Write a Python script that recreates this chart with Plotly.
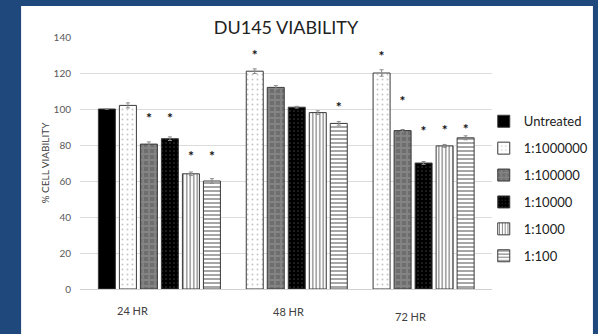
import plotly.graph_objects as go

groups = ["24 HR", "48 HR", "72 HR"]
series = ["Untreated", "1:1000000", "1:100000", "1:10000", "1:1000", "1:100"]

untreated = [100, None, None]
dil_1e6 = [102, 121, 120]
dil_1e5 = [80.5, 112, 88]
dil_1e4 = [83.5, 101, 70]
dil_1e3 = [64, 98, 79.5]
dil_1e2 = [60, 92, 84]

err_untreated = [0, None, None]
err_1e6 = [1.4, 1.3, 1.8]
err_1e5 = [1.2, 1.0, 0.6]
err_1e4 = [1.0, 0.5, 0.8]
err_1e3 = [1.0, 1.0, 0.8]
err_1e2 = [1.3, 1.0, 1.1]

star_untreated = [None, None, None]
star_1e6 = [None, 131, 130.5]
star_1e5 = [96, None, 105.5]
star_1e4 = [96, None, 89]
star_1e3 = [75, None, 89.5]
star_1e2 = [75, 102, 90]

values = [untreated, dil_1e6, dil_1e5, dil_1e4, dil_1e3, dil_1e2]
errors = [err_untreated, err_1e6, err_1e5, err_1e4, err_1e3, err_1e2]
stars = [star_untreated, star_1e6, star_1e5, star_1e4, star_1e3, star_1e2]

styles = [
    dict(color="#000000", pattern=dict(shape="")),
    dict(color="#ffffff", pattern=dict(shape=".", fgcolor="#8c8c8c", bgcolor="#ffffff", size=5, solidity=0.12)),
    dict(color="#7f7f7f", pattern=dict(shape="+", fgcolor="#9a9a9a", bgcolor="#6e6e6e", size=6, solidity=0.5)),
    dict(color="#000000", pattern=dict(shape=".", fgcolor="#6a6a6a", bgcolor="#000000", size=4, solidity=0.15)),
    dict(color="#ffffff", pattern=dict(shape="|", fgcolor="#000000", bgcolor="#ffffff", size=3.5, solidity=0.35)),
    dict(color="#ffffff", pattern=dict(shape="-", fgcolor="#000000", bgcolor="#ffffff", size=4, solidity=0.35)),
]

slot = 0.1656
bar_w = 0.134

fig = go.Figure()
for i, name in enumerate(series):
    xs, ys, es = [], [], []
    for g in range(len(groups)):
        if values[i][g] is not None:
            xs.append(g + (i - 2.5) * slot)
            ys.append(values[i][g])
            es.append(errors[i][g])
    st = styles[i]
    fig.add_trace(go.Bar(
        x=xs, y=ys, name=name, width=bar_w, legendgroup=name,
        marker=dict(color=st["color"], pattern=st["pattern"],
                    line=dict(color="#3a3a3a", width=1)),
        error_y=dict(type="data", array=es, color="#8a8a8a", thickness=1, width=2,
                     visible=True),
    ))

for i, name in enumerate(series):
    xs, ys = [], []
    for g in range(len(groups)):
        if stars[i][g] is not None:
            xs.append(g + (i - 2.5) * slot)
            ys.append(stars[i][g] - 1.8)
    if xs:
        fig.add_trace(go.Scatter(
            x=xs, y=ys, mode="text", text=["<b>*</b>"] * len(xs), showlegend=False,
            textfont=dict(size=14, color="#111111", family="Lato"),
            hoverinfo="skip",
        ))

label_x = [-0.216, 1.014, 1.976]
label_y = [-0.085, -0.09, -0.11]
for g, lab in enumerate(groups):
    fig.add_annotation(x=label_x[g], y=label_y[g], xref="x", yref="paper", text=lab,
                       showarrow=False, font=dict(size=11, color="#404040", family="Lato"),
                       xanchor="center", yanchor="middle")

fig.add_shape(type="rect", xref="paper", yref="paper", x0=-0.143, x1=1.245, y0=-0.2,
              y1=1.123, fillcolor="#ffffff", line=dict(width=0), layer="below")

fig.update_layout(
    width=598, height=334,
    margin=dict(l=80, r=106, t=37, b=45, autoexpand=False),
    paper_bgcolor="#1f497d",
    plot_bgcolor="#ffffff",
    barmode="overlay",
    title=dict(text="DU145 VIABILITY", x=0.5, xref="paper", xanchor="center",
               y=0.916, yref="container", yanchor="middle",
               font=dict(size=18, color="#222222", family="Lato")),
    xaxis=dict(range=[-0.626, 2.622], showticklabels=False, showgrid=False,
               zeroline=False, showline=False, ticks=""),
    yaxis=dict(range=[0, 140], dtick=20, showgrid=True, gridcolor="#dcdcdc", gridwidth=1,
               zeroline=True, zerolinecolor="#d0d0d0", zerolinewidth=1, showline=False,
               tickfont=dict(size=10, color="#595959", family="Lato"),
               ticks="outside", ticklen=6, tickcolor="rgba(0,0,0,0)",
               title=dict(text="% CELL VIABILITY", standoff=2,
                          font=dict(size=10, color="#404040", family="Lato"))),
    legend=dict(x=0.98, y=0.725, xanchor="left", yanchor="top",
                font=dict(size=13, color="#222222", family="Lato"),
                traceorder="grouped", tracegroupgap=7, itemwidth=30,
                bgcolor="rgba(0,0,0,0)"),
    showlegend=True,
)

fig.write_html("out.html", config={"displayModeBar": False},
               post_script="document.body.style.margin='0';document.body.style.overflow='hidden';")
